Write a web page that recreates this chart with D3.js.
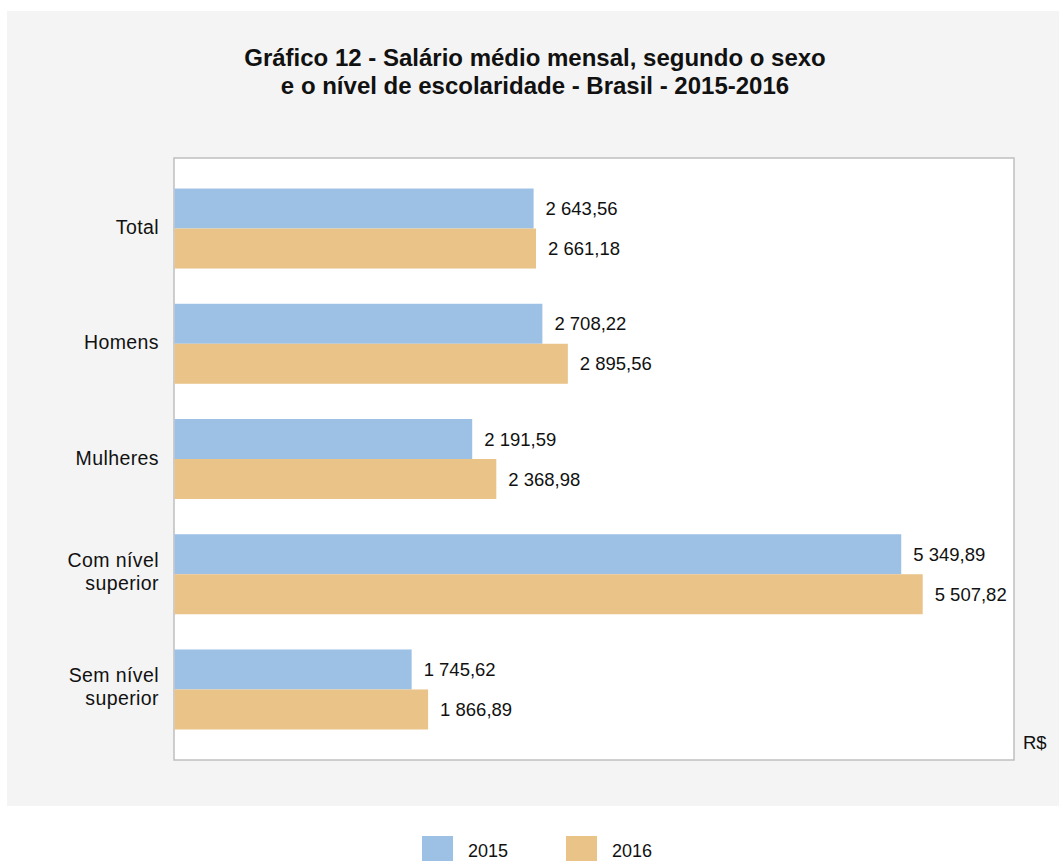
<!DOCTYPE html>
<html>
<head>
<meta charset="utf-8">
<script src="https://cdn.jsdelivr.net/npm/d3@7"></script>
<style>
  html, body { margin: 0; padding: 0; background: #ffffff; }
  svg { display: block; }
  text { font-family: "Liberation Sans", Arial, sans-serif; fill: #111111; }
</style>
</head>
<body>
<div id="chart"></div>
<script>
// Categories (top to bottom) and average monthly wage per year, in R$
const categories = ["Total", "Homens", "Mulheres", "Com nível\nsuperior", "Sem nível\nsuperior"];
const values2015 = [2643.56, 2708.22, 2191.59, 5349.89, 1745.62];
const values2016 = [2661.18, 2895.56, 2368.98, 5507.82, 1866.89];
const years = ["2015", "2016"];
const titleLines = [
  "Gráfico 12 - Salário médio mensal, segundo o sexo",
  "e o nível de escolaridade - Brasil - 2015-2016"
];
const unitLabel = "R$";

const colors = { "2015": "#9dc0e5", "2016": "#e9c387" };

const W = 1059, H = 861;
const plot = { left: 174, top: 158, right: 1014, bottom: 760 };
const barH = 40;

const svg = d3.select("#chart").append("svg")
  .attr("width", W).attr("height", H);

// Outer gray panel
svg.append("rect")
  .attr("x", 7).attr("y", 11)
  .attr("width", W - 7).attr("height", 795)
  .attr("fill", "#f4f4f4");

// Title
svg.append("text")
  .attr("text-anchor", "middle")
  .attr("font-weight", "bold")
  .attr("font-size", 24)
  .selectAll("tspan")
  .data(titleLines)
  .join("tspan")
  .attr("x", 535)
  .attr("y", (d, i) => 66 + i * 28)
  .text(d => d);

// Plot area
svg.append("rect")
  .attr("x", plot.left).attr("y", plot.top)
  .attr("width", plot.right - plot.left).attr("height", plot.bottom - plot.top)
  .attr("fill", "#ffffff")
  .attr("stroke", "#bfbfbf")
  .attr("stroke-width", 1.5);

// Scales
const x = d3.scaleLinear().domain([0, 6180]).range([plot.left + 0.5, plot.right]);
const y = d3.scalePoint().domain(categories).range([plot.top, plot.bottom]).padding(0.612);

const locale = d3.formatLocale({ decimal: ",", thousands: " ", grouping: [3], currency: ["R$", ""] });
const fmt = locale.format(",.2f");

const rows = categories.map((c, i) => ({ cat: c, v: [values2015[i], values2016[i]] }));

// Bars and value labels
years.forEach((yr, k) => {
  const g = svg.append("g");
  g.selectAll("rect")
    .data(rows)
    .join("rect")
    .attr("x", x(0))
    .attr("y", d => y(d.cat) - barH + k * barH)
    .attr("width", d => x(d.v[k]) - x(0))
    .attr("height", barH)
    .attr("fill", colors[yr]);
  g.selectAll("text")
    .data(rows)
    .join("text")
    .attr("x", d => x(d.v[k]) + 12)
    .attr("y", d => y(d.cat) - barH / 2 + k * barH + 6.5)
    .attr("font-size", 18.5)
    .text(d => fmt(d.v[k]));
});

// Category labels (y axis)
const yAxis = svg.append("g");
rows.forEach(d => {
  const lines = d.cat.split("\n");
  const t = yAxis.append("text")
    .attr("text-anchor", "end")
    .attr("font-size", 19.5)
    .attr("letter-spacing", 0.4);
  const startY = lines.length === 1 ? y(d.cat) + 5.5 : y(d.cat) - 7;
  lines.forEach((ln, i) => {
    t.append("tspan").attr("x", 159).attr("y", startY + i * 23).text(ln);
  });
});

// Unit label
svg.append("text")
  .attr("x", 1023).attr("y", 749)
  .attr("font-size", 18.5)
  .text(unitLabel);

// Legend
const legend = svg.append("g");
years.forEach((yr, k) => {
  const lx = 422 + k * 144;
  legend.append("rect")
    .attr("x", lx).attr("y", 836)
    .attr("width", 31).attr("height", 30)
    .attr("fill", colors[yr]);
  legend.append("text")
    .attr("x", lx + 46).attr("y", 857)
    .attr("font-size", 18)
    .text(yr);
});
</script>
</body>
</html>
